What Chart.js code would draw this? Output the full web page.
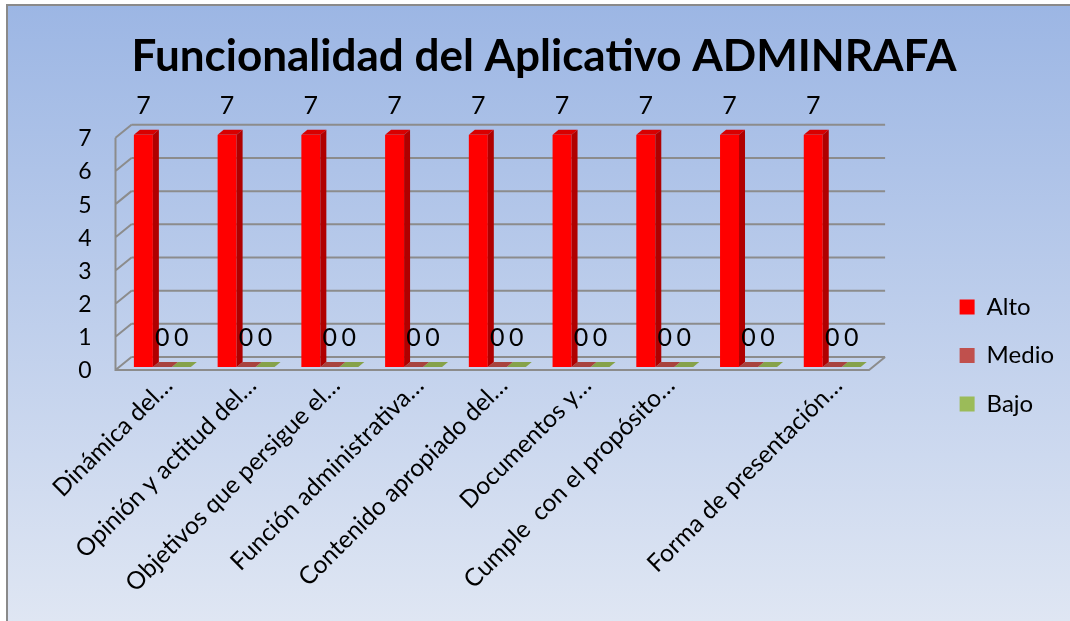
<!DOCTYPE html>
<html>
<head>
<meta charset="utf-8">
<title>Funcionalidad del Aplicativo ADMINRAFA</title>
<script src="https://cdn.jsdelivr.net/npm/chart.js@4.4.0/dist/chart.umd.min.js"></script>
<style>
    html, body { margin: 0; padding: 0; background: #ffffff; }
    #wrap { width: 1070px; height: 621px; }
</style>
</head>
<body>
<div id="wrap"><canvas id="chart" width="1070" height="621"></canvas></div>
<script>
const categories = [
    'Dinámica del…',
    'Opinión y actitud del…',
    'Objetivos que persigue el…',
    'Función administrativa…',
    'Contenido apropiado del…',
    'Documentos y…',
    'Cumple  con el propósito…',
    '',
    'Forma de presentación…'
];
const alto  = [7, 7, 7, 7, 7, 7, 7, 7, 7];
const medio = [0, 0, 0, 0, 0, 0, 0, 0, 0];
const bajo  = [0, 0, 0, 0, 0, 0, 0, 0, 0];
const seriesNames = ['Alto', 'Medio', 'Bajo'];
const yTicks = [0, 1, 2, 3, 4, 5, 6, 7];

const FONT = 'Lato';
const frontColors = ['#ff0000', '#c0504d', '#9bbb59'];
const sideColors  = ['#b00000', '#8e3b39', '#748c42'];
const topColors   = ['#d80000', '#a8433f', '#86a24a'];

// depth of the walls and of the bars (Excel style 3D look)
const WALL_DX = 16, WALL_DY = -13;
const BAR_DX = 6, BAR_DY = -5;
const FRAME_SHIFT = 5;   // frame sits a bit left of the bars
const FRAME_DROP = 3;    // and a bit lower (front plane)

const backgroundPlugin = {
    id: 'background',
    beforeDraw(chart) {
        const ctx = chart.ctx;
        ctx.save();
        ctx.fillStyle = '#ffffff';
        ctx.fillRect(0, 0, chart.width, chart.height);
        const g = ctx.createLinearGradient(0, 4, 0, chart.height);
        g.addColorStop(0, '#9cb6e4');
        g.addColorStop(1, '#dfe6f3');
        ctx.fillStyle = g;
        ctx.fillRect(6, 4, chart.width - 6, chart.height - 4);
        ctx.strokeStyle = '#8a8a8a';
        ctx.lineWidth = 2;
        ctx.beginPath();
        ctx.moveTo(7, chart.height);
        ctx.lineTo(7, 5);
        ctx.lineTo(chart.width, 5);
        ctx.stroke();
        ctx.restore();
    }
};

const framePlugin = {
    id: 'frame3d',
    beforeDatasetsDraw(chart) {
        const ctx = chart.ctx;
        const area = chart.chartArea;
        const y = chart.scales.y;
        const left = area.left - FRAME_SHIFT;
        const right = area.right - FRAME_SHIFT;
        const y0 = y.getPixelForValue(0) + FRAME_DROP;
        const yTop = y.getPixelForValue(yTicks[yTicks.length - 1]) + FRAME_DROP;
        ctx.save();
        ctx.strokeStyle = '#8c8c8c';
        ctx.lineWidth = 2;
        ctx.beginPath();
        yTicks.forEach(function(v) {
            const py = y.getPixelForValue(v) + FRAME_DROP;
            // back wall grid line
            ctx.moveTo(left + WALL_DX, py + WALL_DY);
            ctx.lineTo(right + WALL_DX, py + WALL_DY);
            // side wall diagonal
            ctx.moveTo(left, py);
            ctx.lineTo(left + WALL_DX, py + WALL_DY);
        });
        // front edge of side wall
        ctx.moveTo(left, yTop);
        ctx.lineTo(left, y0);
        // floor front edge and right edge
        ctx.lineTo(right, y0);
        ctx.lineTo(right + WALL_DX, y0 + WALL_DY);
        ctx.stroke();
        ctx.restore();
    }
};

const barFacesPlugin = {
    id: 'barFaces',
    afterDatasetsDraw(chart) {
        const ctx = chart.ctx;
        ctx.save();
        for (let d = chart.data.datasets.length - 1; d >= 0; d--) {
            const meta = chart.getDatasetMeta(d);
            meta.data.forEach(function(bar) {
                const l = bar.x - bar.width / 2;
                const r = bar.x + bar.width / 2;
                // top face
                ctx.fillStyle = topColors[d];
                ctx.beginPath();
                ctx.moveTo(l, bar.y);
                ctx.lineTo(l + BAR_DX, bar.y + BAR_DY);
                ctx.lineTo(r + BAR_DX, bar.y + BAR_DY);
                ctx.lineTo(r, bar.y);
                ctx.closePath();
                ctx.fill();
                // side face
                if (bar.base - bar.y > 1) {
                    ctx.fillStyle = sideColors[d];
                    ctx.beginPath();
                    ctx.moveTo(r, bar.y);
                    ctx.lineTo(r + BAR_DX, bar.y + BAR_DY);
                    ctx.lineTo(r + BAR_DX, bar.base + BAR_DY);
                    ctx.lineTo(r, bar.base);
                    ctx.closePath();
                    ctx.fill();
                }
            });
        }
        // value labels
        ctx.fillStyle = '#000000';
        ctx.font = '25px ' + FONT;
        ctx.textAlign = 'center';
        ctx.textBaseline = 'middle';
        chart.data.datasets.forEach(function(ds, d) {
            chart.getDatasetMeta(d).data.forEach(function(bar, i) {
                ctx.fillText(String(ds.data[i]), bar.x, bar.y - 29);
            });
        });
        ctx.restore();
    }
};

const datasets = [alto, medio, bajo].map(function(values, i) {
    return {
        label: seriesNames[i],
        data: values,
        backgroundColor: frontColors[i],
        borderWidth: 0,
        categoryPercentage: 0.68,
        barPercentage: 1.0
    };
});

new Chart(document.getElementById('chart'), {
    type: 'bar',
    data: { labels: categories, datasets: datasets },
    options: {
        responsive: false,
        animation: false,
        layout: { padding: { left: 24, right: 6, top: 0, bottom: 0 } },
        plugins: {
            title: {
                display: true,
                text: 'Funcionalidad del Aplicativo ADMINRAFA',
                color: '#000000',
                font: { family: FONT, size: 44, weight: 'bold' },
                padding: { top: 30, bottom: 52 }
            },
            legend: {
                position: 'right',
                align: 'center',
                // empty title only used to push the items down
                title: { display: true, text: '', font: { size: 10 }, padding: { top: 78, bottom: 0 } },
                labels: {
                    color: '#000000',
                    font: { family: FONT, size: 24 },
                    boxWidth: 15,
                    boxHeight: 15,
                    padding: 24.5
                }
            },
            tooltip: { enabled: false }
        },
        scales: {
            x: {
                grid: { display: false },
                border: { display: false },
                ticks: {
                    color: '#000000',
                    font: { family: FONT, size: 24.5 },
                    maxRotation: 45,
                    minRotation: 45,
                    autoSkip: false,
                    padding: -4,
                    labelOffset: 6
                },
                afterFit: function(scale) { scale.height = 254; }
            },
            y: {
                min: 0,
                max: 7,
                grid: { display: false, drawTicks: false },
                border: { display: false },
                ticks: {
                    stepSize: 1,
                    color: '#000000',
                    font: { family: FONT, size: 23 },
                    padding: 29,
                    labelOffset: 4
                },
                afterFit: function(scale) { scale.width = 96.5; }
            },
            y2: {
                position: 'right',
                grid: { display: false, drawTicks: false },
                border: { display: false },
                ticks: { display: false },
                afterFit: function(scale) { scale.width = 61; }
            }
        }
    },
    plugins: [backgroundPlugin, framePlugin, barFacesPlugin]
});
</script>
</body>
</html>
